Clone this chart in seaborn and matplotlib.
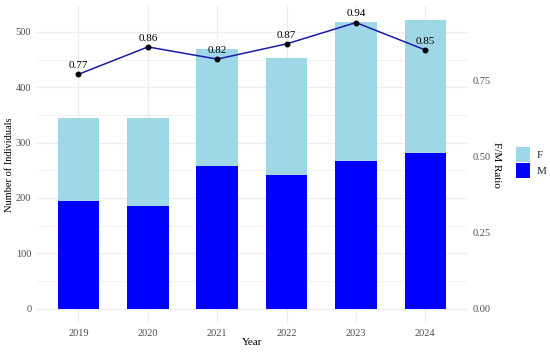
import numpy as np
import pandas as pd
import matplotlib
matplotlib.use("Agg")
import matplotlib.pyplot as plt
from matplotlib.patches import Patch
from matplotlib.ticker import MultipleLocator
import seaborn as sns

# data
years = ["2019", "2020", "2021", "2022", "2023", "2024"]
male = [195, 186, 258, 242, 267, 281]
female = [150, 159, 212, 211, 251, 240]
ratio_labels = ["0.77", "0.86", "0.82", "0.87", "0.94", "0.85"]

SCALE = 550  # secondary axis: ratio * 550 = count scale

sns.set_theme(style="whitegrid")
plt.rcParams['font.family'] = ['Liberation Serif', 'DejaVu Serif']

df = pd.DataFrame({"Year": years, "M": male, "F": female})
df["Total"] = df["M"] + df["F"]
df["Ratio"] = [float(r) for r in ratio_labels]

fig = plt.figure(figsize=(5.5, 3.52), dpi=100)
ax = fig.add_axes([0.067, 0.0824, 0.782, 0.9006])

light = "#9ED8E6"
dark = "#0000FF"

sns.barplot(data=df, x="Year", y="Total", color=light, width=0.6,
            saturation=1, ax=ax, linewidth=0)
sns.barplot(data=df, x="Year", y="M", color=dark, width=0.6,
            saturation=1, ax=ax, linewidth=0)

ymin, ymax = -26, 547
ax.set_ylim(ymin, ymax)
ax.set_xlim(-0.6, 5.6)
ax.yaxis.set_major_locator(MultipleLocator(100))
ax.yaxis.set_minor_locator(MultipleLocator(50))
ax.set_yticks(np.arange(0, 501, 100))

grid_c = "#EDEDED"
ax.grid(which="major", color=grid_c, linewidth=0.9)
ax.grid(which="minor", axis="y", color=grid_c, linewidth=0.5)
ax.set_axisbelow(True)
for s in ax.spines.values():
    s.set_visible(False)

# ratio line on secondary axis
ax2 = ax.twinx()
ax2.set_ylim(ymin / SCALE, ymax / SCALE)
sns.lineplot(x=np.arange(len(years)), y=df["Ratio"], ax=ax2,
             color="#1C1CA6", linewidth=1.1, marker="o", markersize=3.5,
             markerfacecolor="black", markeredgecolor="black")
for i, (r, lab) in enumerate(zip(df["Ratio"], ratio_labels)):
    ax2.annotate(lab, (i, r), xytext=(0, 3), textcoords="offset points",
                 ha="center", va="bottom", fontsize=8, color="black")
ax2.set_yticks([0, 0.25, 0.5, 0.75])
ax2.set_yticklabels(["0.00", "0.25", "0.50", "0.75"])
ax2.grid(False)
for s in ax2.spines.values():
    s.set_visible(False)
ax2.set_xlim(-0.6, 5.6)

tick_c = "#4D4D4D"
ax.tick_params(axis="both", which="both", length=0, labelsize=7.5, colors=tick_c, pad=4)
ax2.tick_params(axis="y", length=0, labelsize=7.5, colors=tick_c, pad=4)
ax.set_xlabel("Year", fontsize=8, color="black")
ax.set_ylabel("Number of Individuals", fontsize=7.5, color="black")
ax2.set_ylabel("F/M Ratio", fontsize=8, color="black", rotation=270)
ax.xaxis.set_label_coords(0.5, -0.047)
ax.yaxis.set_label_coords(-0.053, 0.5)
ax2.yaxis.set_label_coords(1.079, 0.5)

handles = [Patch(facecolor=light, edgecolor="none", label="F"),
           Patch(facecolor=dark, edgecolor="none", label="M")]
fig.legend(handles=handles, loc="center left", bbox_to_anchor=(0.938, 0.538),
           frameon=False, fontsize=8, handlelength=1.3, handleheight=1.7,
           handletextpad=0.6, labelspacing=0.1, borderpad=0,
           borderaxespad=0)

fig.savefig("out.png", dpi=100)
